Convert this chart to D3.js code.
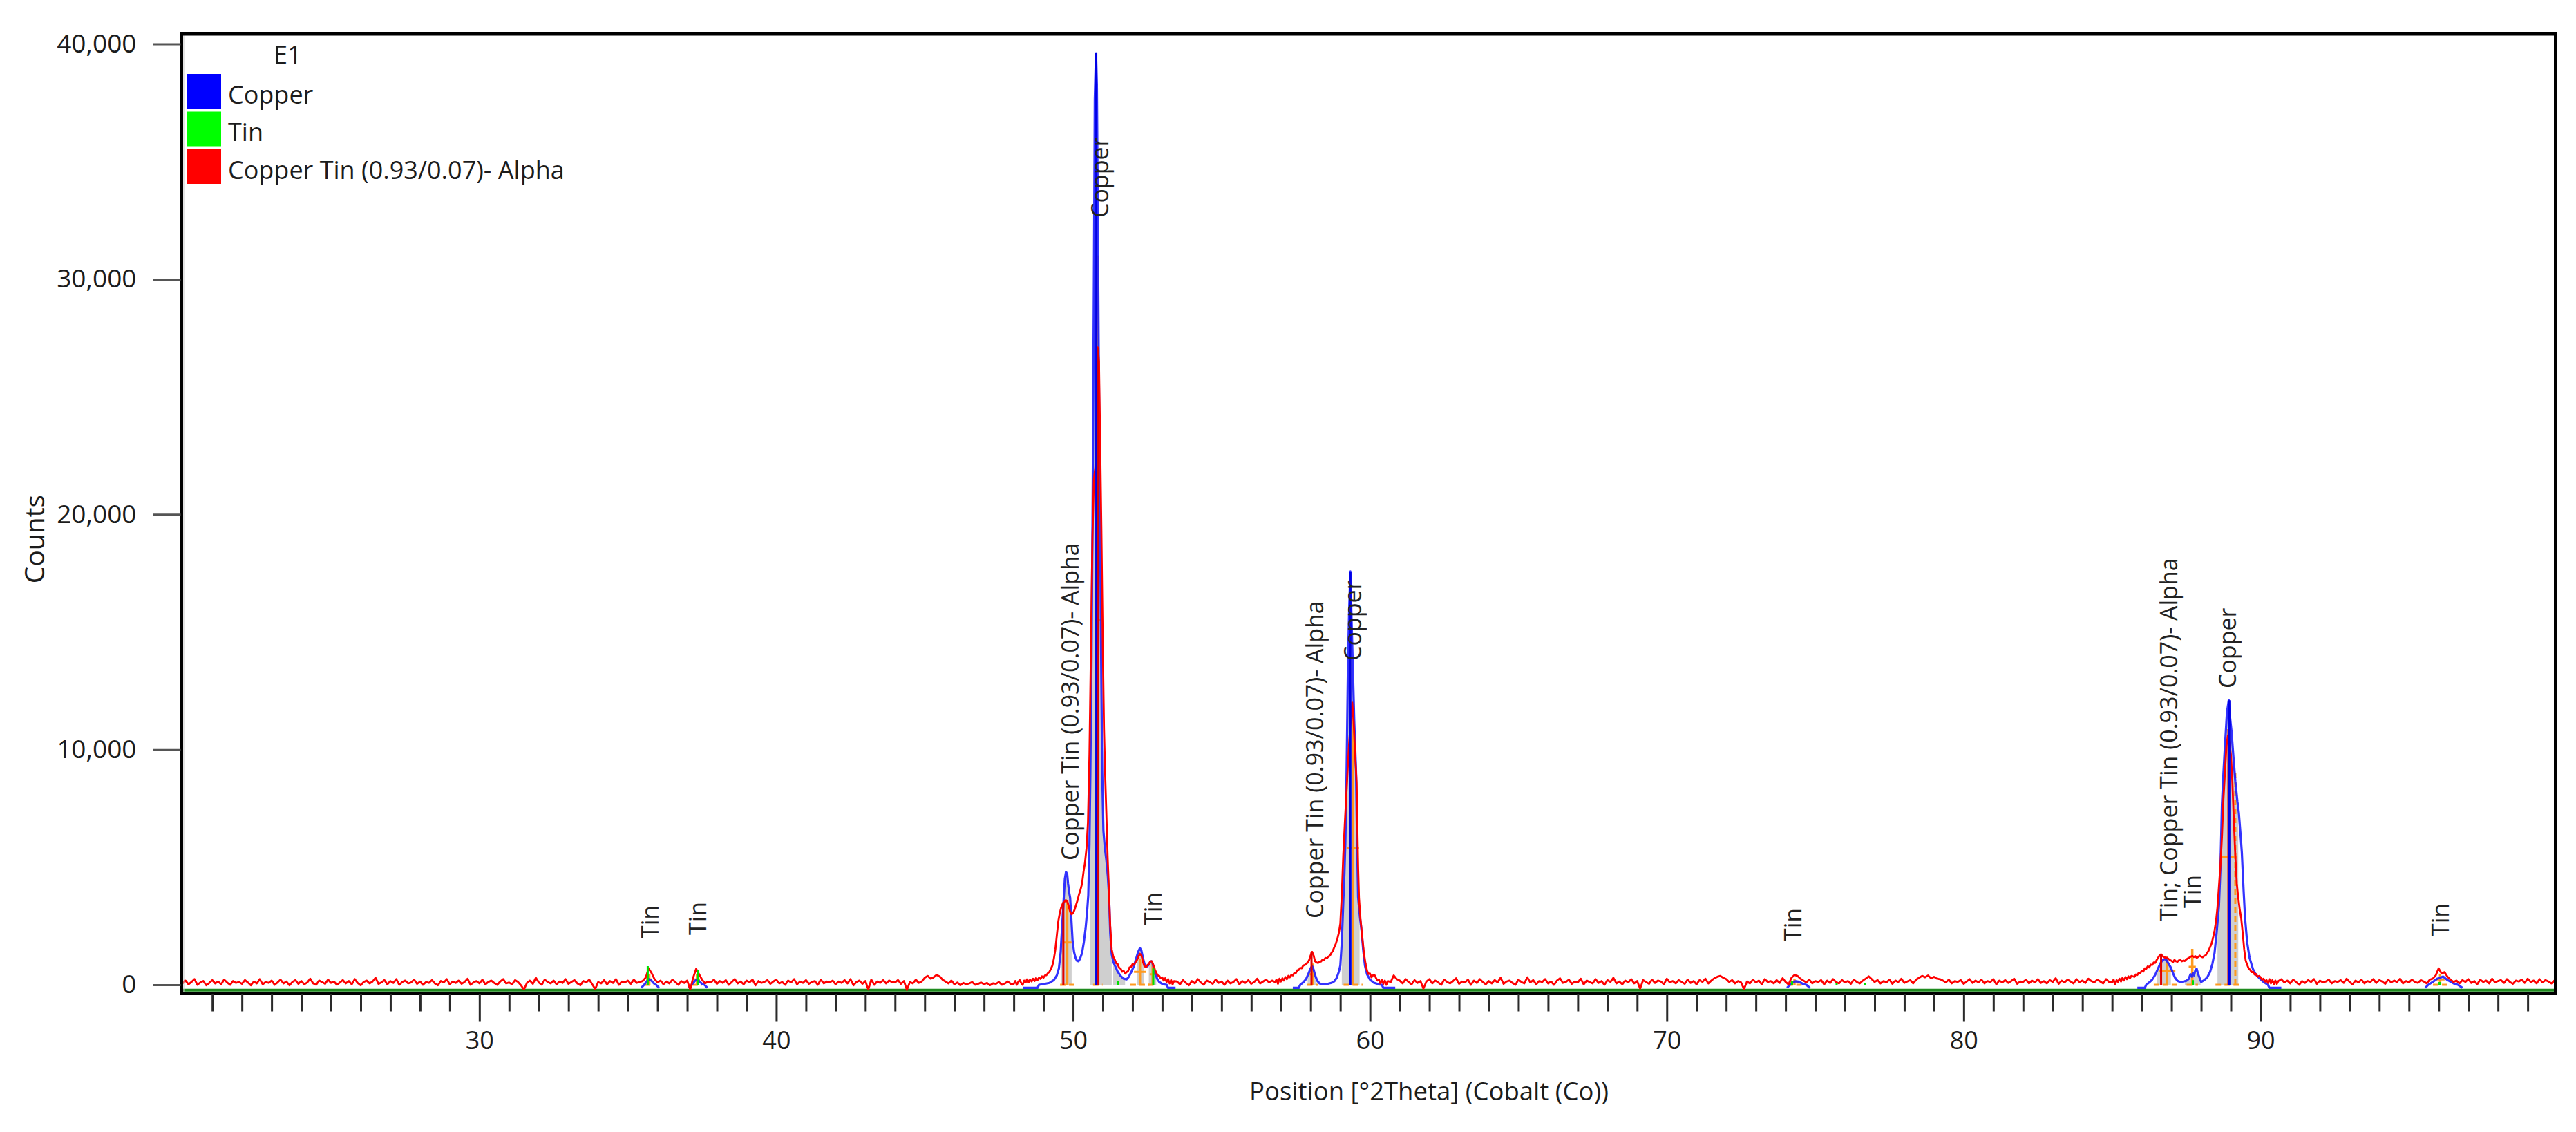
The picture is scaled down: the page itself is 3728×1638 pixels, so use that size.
<!DOCTYPE html>
<html>
<head>
<meta charset="utf-8">
<script src="https://cdn.jsdelivr.net/npm/d3@7/dist/d3.min.js"></script>
<style>
html,body{margin:0;padding:0;background:#ffffff;}
svg{display:block;}
</style>
</head>
<body>
<svg id="chart" width="3728" height="1638"></svg>
<script>
// ---------------- axis / text data ----------------
const xDomain = [19.96, 99.94];
const yDomain = [-367, 40426];
const xMajorTicks = [30, 40, 50, 60, 70, 80, 90];
const xMajorLabels = ["30", "40", "50", "60", "70", "80", "90"];
const yTicks = [0, 10000, 20000, 30000, 40000];
const yTickLabels = ["0", "10,000", "20,000", "30,000", "40,000"];
const xTitle = "Position [°2Theta] (Cobalt (Co))";
const yTitle = "Counts";
const legendTitle = "E1";
const phases = ["Copper", "Tin", "Copper Tin (0.93/0.07)- Alpha"];
const phaseColors = ["#0000ff", "#00ff00", "#ff0000"];

// ---------------- measured scan (red) ----------------
const scanStep = 0.1;
const scanBgAStart = 20.0;
const scanBgA = [
 60,180,20,120,240,0,100,160,-20,80,200,60,140,20,220,100,0,160,80,120,
 40,200,100,-20,140,60,240,20,120,80,180,0,100,220,60,140,-20,120,200,40,
 160,20,100,260,60,0,180,120,40,220,80,140,0,100,200,60,160,20,240,80,
 -20,120,180,60,140,300,40,100,200,20,160,80,240,0,120,180,60,100,220,40,
 140,0,120,80,200,60,-20,160,100,240,20,140,80,180,40,120,260,0,100,160,
 60,220,20,120,180,80,0,140,240,60,100,20,200,120,-20,-200,80,180,40,300,
 100,0,220,120,60,180,20,140,80,240,40,120,200,60,-20,160,100,220,20,-180,
 120,60,200,20,160,80,240,0,140,100,180,40,220,80,120,160,300,700,500,240,
 100,180,20,140,60,220,120,0,160,80,180,-200,300,680,450,220,60,140,100,220,
 40,160,80,200,0,120,240,60,140,20,180,100,220,-20,160,80,120,200,40,140,
 220,60,120,0,180,100,240,20,140,80,200,40,120,160,0,220,60,140,100,180,
 20,140,80,200,60,240,-20,120,180,40,160,-200,220,0,140,80,200,60,180,120,
 100,200,40,160,-220,120,60,220,80,140,300,380,260,320,420,360,220,140,60,180,
 20,100,-20,80,20,60,120,0,40,100,20,80,-20,60,40,120,0,60,140,40
];
const scanWin1 = [
 [48.0,40],[48.05,160],[48.1,0],[48.15,120],[48.2,200],[48.25,80],[48.3,0],[48.35,180],[48.4,100],[48.45,240],
 [48.5,110],[48.55,220],[48.6,140],[48.65,260],[48.7,160],[48.75,290],[48.8,200],[48.85,300],[48.9,250],[48.95,360],
 [49.0,300],[49.05,400],[49.1,410],[49.15,500],[49.2,550],[49.25,680],[49.3,820],[49.35,1100],[49.4,1500],[49.45,2100],
 [49.5,2700],[49.55,3050],[49.6,3300],[49.65,3450],[49.7,3520],[49.75,3600],[49.8,3550],[49.85,3350],[49.9,3100],[49.95,3000],
 [50.0,3050],[50.05,3200],[50.1,3400],[50.15,3600],[50.2,3850],[50.25,4050],[50.3,4300],[50.35,4800],[50.4,5200],[50.45,5800],
 [50.5,6900],[50.55,9800],[50.6,14300],[50.65,19000],[50.7,21500],[50.75,22000],[50.8,24500],[50.83,27100],[50.87,26500],[50.9,24000],
 [50.95,19500],[51.0,14400],[51.04,10900],[51.08,8900],[51.12,7250],[51.16,5500],[51.2,4200],[51.25,2500],[51.3,1500],[51.35,1200],
 [51.4,1080],[51.45,920],[51.5,880],[51.55,720],[51.6,690],[51.65,560],[51.7,600],[51.75,480],[51.8,540],[51.85,580],
 [51.9,740],[51.95,760],[52.0,880],[52.05,850],[52.1,960],[52.15,1050],[52.2,1200],[52.25,1320],[52.3,1250],[52.35,1000],
 [52.4,800],[52.45,740],[52.5,840],[52.55,880],[52.6,1000],[52.65,1000],[52.7,850],[52.75,660],[52.8,520],[52.85,400],
 [52.9,380],[52.95,280],[53.0,320],[53.05,180],[53.1,280],[53.15,120],[53.2,240],[53.25,60],[53.3,200],[53.35,20],[53.4,160]
];
const scanBgBStart = 53.5;
const scanBgB = [
 140,20,200,80,-20,160,60,240,100,0,180,120,40,220,80,140,0,180,60,120,
 240,20,160,80,200,40,120,260,60,140,220,100,180
];
const scanWin2 = [
 [56.8,120],[56.85,220],[56.9,40],[56.95,260],[57.0,140],[57.05,280],[57.1,180],[57.15,330],[57.2,240],[57.25,380],
 [57.3,320],[57.35,420],[57.4,400],[57.45,500],[57.5,500],[57.55,620],[57.6,630],[57.65,720],[57.7,700],[57.75,820],
 [57.8,840],[57.85,900],[57.9,940],[57.95,1050],[58.0,1250],[58.05,1400],[58.1,1250],[58.15,1000],[58.2,950],[58.25,930],
 [58.3,980],[58.35,990],[58.4,1070],[58.45,1060],[58.5,1140],[58.55,1130],[58.6,1200],[58.65,1240],[58.7,1350],[58.75,1450],
 [58.8,1600],[58.85,1750],[58.9,1950],[58.95,2200],[59.0,2600],[59.05,3800],[59.1,5500],[59.15,6800],[59.2,8000],[59.25,9200],
 [59.3,10300],[59.35,11200],[59.4,12000],[59.45,11200],[59.5,9800],[59.55,8600],[59.6,5000],[59.63,3700],[59.68,2800],[59.75,1900],
 [59.8,1300],[59.85,900],[59.9,600],[59.95,460],[60.0,480],[60.05,320],[60.1,400],[60.15,420],[60.2,300],[60.25,180],
 [60.3,220],[60.35,60],[60.4,220],[60.45,40],[60.5,180],[60.55,0],[60.6,160]
];
const scanBgCStart = 60.7;
const scanBgC = [
 120,400,240,180,60,240,120,20,200,80,160,-160,140,240,60,180,100,0,220,120,
 60,160,280,40,140,100,220,0,180,80,240,120,20,160,60,200,100,300,40,140,
 180,80,0,220,120,60,320,100,200,20,160,120,240,60,140,0,180,280,80,120,
 220,40,140,100,260,20,180,120,60,240,80,160,0,200,120,300,60,140,20,180,
 100,240,60,160,-160,200,120,40,220,80,180,140,20,260,100,160,60,200,120,40,
 220,80,160,20,200,120,260,60,180,280,340,380,300,240,120,200,60,160,100,-180,
 140,60,220,100,180,20,240,120,160,60,200,80,280,120,20,300,420,380,260,180,
 100,220,60,160,120,200,20,180,80,240,120,60,200,100,160,40,220,120,60,180,
 260,360,240,120,200,60,160,100,220,40,180,120,260,80,140,200,60,220,300,380,
 320,400,280,340,260,240,180,100,220,60,160,120,200,40,140,240,80,180,100,220,
 60,160,120,240,20,180,100,200,80,160,260,40,140,120,220,60,180,100,240,80,
 160,60,200,120,280,40,180,100,220,140,60,240,120,180,80,260,160,100,220,140,
 60,240,120
];
const scanWin3 = [
 [85.0,100],[85.05,220],[85.1,20],[85.15,200],[85.2,120],[85.25,260],[85.3,140],[85.35,300],[85.4,180],[85.45,330],
 [85.5,240],[85.55,360],[85.6,280],[85.65,380],[85.7,360],[85.75,340],[85.8,440],[85.85,420],[85.9,520],[85.95,500],
 [86.0,600],[86.05,560],[86.1,700],[86.15,680],[86.2,790],[86.25,740],[86.3,860],[86.35,840],[86.4,950],[86.45,930],
 [86.5,1050],[86.55,1150],[86.6,1250],[86.65,1300],[86.7,1220],[86.75,1180],[86.8,1150],[86.85,1150],[86.9,1100],[86.95,1050],
 [87.0,1020],[87.05,960],[87.1,1060],[87.15,1000],[87.2,980],[87.25,1040],[87.3,1050],[87.35,1000],[87.4,1030],[87.45,1010],
 [87.5,1080],[87.55,1120],[87.6,1150],[87.65,1200],[87.7,1230],[87.75,1180],[87.8,1220],[87.85,1150],[87.9,1180],[87.95,1240],
 [88.0,1200],[88.05,1170],[88.1,1230],[88.15,1250],[88.2,1350],[88.25,1450],[88.3,1600],[88.35,1750],[88.4,2000],[88.45,2300],
 [88.5,2700],[88.55,3300],[88.6,4200],[88.65,5100],[88.7,6300],[88.75,7900],[88.8,9000],[88.85,10140],[88.9,10600],[88.95,10300],
 [89.0,9800],[89.05,8660],[89.1,7000],[89.15,5500],[89.2,4300],[89.25,3700],[89.3,3200],[89.35,2820],[89.4,2200],[89.45,1500],
 [89.5,1030],[89.55,850],[89.6,700],[89.65,640],[89.7,540],[89.75,560],[89.8,440],[89.85,460],[89.9,340],[89.95,380],
 [90.0,320],[90.05,220],[90.1,260],[90.15,140],[90.2,200],[90.25,80],[90.3,240],[90.35,60],[90.4,200],[90.45,20],
 [90.5,180],[90.55,40],[90.6,160]
];
const scanBgDStart = 90.7;
const scanBgD = [
 240,100,180,60,220,120,0,160,80,200,120,240,40,180,100,140,220,60,160,120,
 200,80,260,120,20,180,100,220,60,160,120,240,80,200,140,40,220,100,180,120,
 260,60,160,100,220,120,80,200,140,60,220,260,400,700,480,540,340,220,120,180,
 60,200,120,240,80,160,20,220,120,180,60,260,100,160,200,80,240,120,40,180,
 140,220,80,260,120,180,60,240,100,200,140,60,180
];

// ---------------- calculated profile (blue) ----------------
const profileA = [
 [48.3,-130],[48.8,-130],[48.85,0],[49.0,30],[49.2,80],[49.35,200],[49.45,400],[49.52,700],[49.58,1400],[49.63,2500],
 [49.68,3600],[49.72,4500],[49.76,4800],[49.8,4700],[49.83,4300],[49.87,3900],[49.9,3700],[49.94,2800],[49.98,1900],[50.03,1400],
 [50.08,1150],[50.13,1020],[50.18,1000],[50.23,1100],[50.3,1350],[50.36,1800],[50.42,2400],[50.47,3100],[50.51,3800],[50.55,6000],
 [50.58,9000],[50.62,14000],[50.66,21000],[50.7,30000],[50.73,37650],[50.77,39600],[50.8,38240],[50.83,33000],[50.86,27000],[50.9,21000],
 [50.94,14500],[50.98,9000],[51.02,6550],[51.07,5800],[51.12,5300],[51.17,4600],[51.21,3800],[51.25,2200],[51.3,1300],[51.36,950],
 [51.43,760],[51.5,560],[51.6,380],[51.7,260],[51.8,230],[51.88,350],[51.96,550],[52.05,800],[52.12,1100],[52.19,1400],
 [52.25,1560],[52.3,1450],[52.36,1100],[52.42,820],[52.47,760],[52.53,830],[52.59,950],[52.64,1000],[52.68,900],[52.73,650],
 [52.78,420],[52.84,230],[52.9,120],[53.0,40],[53.1,10],[53.15,0],[53.2,-130],[53.45,-130]
];
const profileB = [
 [57.4,-130],[57.6,-130],[57.65,0],[57.75,100],[57.85,250],[57.92,450],[58.0,700],[58.05,800],[58.1,650],[58.16,380],
 [58.22,180],[58.3,60],[58.4,20],[58.5,30],[58.6,50],[58.7,80],[58.8,150],[58.88,300],[58.95,550],[59.0,820],
 [59.05,1800],[59.1,3500],[59.14,4800],[59.17,6050],[59.2,8000],[59.22,9840],[59.26,13720],[59.3,16000],[59.34,17570],[59.38,15500],
 [59.42,13600],[59.47,11200],[59.53,9100],[59.56,6500],[59.6,3730],[59.66,2900],[59.72,2260],[59.77,1500],[59.83,820],[59.9,450],
 [60.0,220],[60.13,90],[60.3,20],[60.4,0],[60.45,-130],[60.85,-130]
];
const profileC = [
 [85.85,-130],[86.1,-130],[86.15,0],[86.25,100],[86.35,220],[86.45,420],[86.55,700],[86.62,900],[86.7,1050],[86.77,1100],
 [86.83,1050],[86.9,900],[86.98,730],[87.05,500],[87.12,300],[87.2,170],[87.3,120],[87.4,140],[87.5,170],[87.58,250],
 [87.64,450],[87.68,350],[87.72,500],[87.76,400],[87.8,600],[87.85,680],[87.9,450],[87.96,250],[88.0,120],[88.08,180],
 [88.15,250],[88.22,350],[88.3,550],[88.38,900],[88.45,1350],[88.52,2200],[88.6,3380],[88.65,5000],[88.7,7670],[88.75,9000],
 [88.8,10140],[88.87,11600],[88.93,12100],[88.97,11400],[89.02,10810],[89.08,9800],[89.15,8660],[89.22,7800],[89.27,7300],[89.32,6500],
 [89.37,5630],[89.43,4000],[89.48,2820],[89.55,1800],[89.63,1150],[89.75,650],[89.85,420],[89.95,300],[90.1,120],[90.25,0],
 [90.3,-130],[90.7,-130]
];
const profileTin1 = [[35.45,-130],[35.55,0],[35.62,120],[35.7,240],[35.78,200],[35.86,80],[35.95,0],[36.05,-130]];
const profileTin2 = [[37.05,-130],[37.15,0],[37.25,150],[37.33,240],[37.4,160],[37.5,40],[37.58,0],[37.68,-130]];
const profileTin3 = [[74.05,-130],[74.15,0],[74.25,120],[74.35,150],[74.45,130],[74.6,30],[74.7,0],[74.82,-130]];
const profileTin4 = [[95.55,-130],[95.65,0],[95.8,120],[95.95,260],[96.05,300],[96.15,350],[96.3,200],[96.5,60],[96.65,0],[96.8,-130]];

// fitted-peak shading intervals (deg)
const grayBands = [[49.6,49.95],[50.58,51.3],[51.35,51.75],[52.15,52.38],[52.55,52.8],[57.9,58.2],[59.05,59.65],[86.5,86.98],[87.45,87.98],[88.55,89.25]];

// ---------------- reference sticks ----------------
const copperSticks = [[50.78,39600],[59.34,17570],[88.95,12100]];
const tinSticks = [[35.67,790],[37.36,650],[51.52,150],[52.70,700],[74.22,180],[75.72,60],[76.68,80],[87.72,200],[96.03,120]];
const cuSnSticks = [[49.67,3520],[50.85,27100],[58.03,1400],[86.65,1300],[88.92,10870]];

// ---------------- peak list markers (orange): position, height, half width ----------------
const peakPos = [35.72, 37.33, 49.8, 50.83, 52.25, 52.68, 58.07, 59.43, 74.3, 86.85, 87.7, 88.93, 96.05];
const peakHeight = [450, 450, 3600, 31000, 1100, 900, 900, 11660, 250, 1200, 1530, 10870, 450];
const peakHalfWidth = [0.1, 0.1, 0.15, 0.1, 0.2, 0.1, 0.12, 0.2, 0.15, 0.28, 0.12, 0.28, 0.15];
const kAlpha2Marks = [[89.15, 9020]];

// background level of the green phase trace
const greenTraceLevel = -230;

// ---------------- peak annotations: position, counts level, text ----------------
const peakLabelPos = [35.75, 37.36, 49.89, 50.9, 52.7, 58.13, 59.42, 74.25, 86.9, 87.7, 88.9, 96.05];
const peakLabelLevel = [1968, 2115, 5288, 32611, 2527, 2820, 13779, 1851, 2703, 3261, 12604, 2057];
const peakLabelText = ["Tin", "Tin", "Copper Tin (0.93/0.07)- Alpha", "Copper", "Tin", "Copper Tin (0.93/0.07)- Alpha", "Copper", "Tin", "Tin; Copper Tin (0.93/0.07)- Alpha", "Tin", "Copper", "Tin"];

// ================= drawing =================
const svg = d3.select("#chart");
const W = 3728, H = 1638;
const pL = 262.5, pR = 3698.5, pT = 49, pB = 1437.5;
const FONT = "'Open Sans', 'Noto Sans', sans-serif";
const TXT = "#1c1c1c";

const x = d3.scaleLinear().domain(xDomain).range([pL, pR]);
const y = d3.scaleLinear().domain(yDomain).range([pB, pT]);

svg.append("rect").attr("width", W).attr("height", H).attr("fill", "#fff");

const defs = svg.append("defs");
defs.append("clipPath").attr("id", "plotClip").append("rect")
  .attr("x", pL).attr("y", pT).attr("width", pR - pL).attr("height", pB - pT);
grayBands.forEach((b, i) => {
  defs.append("clipPath").attr("id", "band" + i).append("rect")
    .attr("x", x(b[0])).attr("y", pT).attr("width", x(b[1]) - x(b[0])).attr("height", pB - pT);
});

function bgPoints(start, vals) {
  return vals.map((v, i) => [start + i * scanStep, v]);
}
const scan = [].concat(
  bgPoints(scanBgAStart, scanBgA), scanWin1,
  bgPoints(scanBgBStart, scanBgB), scanWin2,
  bgPoints(scanBgCStart, scanBgC), scanWin3,
  bgPoints(scanBgDStart, scanBgD)
);
const profiles = [profileA, profileB, profileC, profileTin1, profileTin2, profileTin3, profileTin4];

const line = d3.line().x(d => x(d[0])).y(d => y(d[1]));
const area = d3.area().x(d => x(d[0])).y0(y(0)).y1(d => y(Math.max(0, d[1])));

const plot = svg.append("g").attr("clip-path", "url(#plotClip)");

// gray fitted-peak shading
const grayG = plot.append("g");
grayBands.forEach((b, i) => {
  profiles.forEach(p => {
    if (p[0][0] <= b[1] && p[p.length - 1][0] >= b[0]) {
      grayG.append("path").attr("clip-path", `url(#band${i})`)
        .attr("d", area(p)).attr("fill", "#cfcfcf").attr("stroke", "none");
    }
  });
});

// green trace at the bottom
plot.append("path")
  .attr("d", line([[xDomain[0], greenTraceLevel], [xDomain[1], greenTraceLevel]]))
  .attr("stroke", "#1f8a1f").attr("stroke-width", 4).attr("fill", "none");

// orange peak-list markers
const orangeG = plot.append("g").attr("stroke", "#ff9a1e").attr("fill", "none");
peakPos.forEach((p, i) => {
  const h = peakHeight[i], w = peakHalfWidth[i];
  orangeG.append("line").attr("x1", x(p)).attr("x2", x(p)).attr("y1", y(0)).attr("y2", y(h)).attr("stroke-width", 3.5);
  orangeG.append("line").attr("x1", x(p - w)).attr("x2", x(p + w)).attr("y1", y(h / 2)).attr("y2", y(h / 2)).attr("stroke-width", 3);
  orangeG.append("line").attr("x1", x(p - 1.6 * w)).attr("x2", x(p + 1.6 * w)).attr("y1", y(0)).attr("y2", y(0))
    .attr("stroke-width", 3).attr("stroke-dasharray", "8,5");
});
kAlpha2Marks.forEach(m => {
  orangeG.append("line").attr("x1", x(m[0])).attr("x2", x(m[0])).attr("y1", y(0)).attr("y2", y(m[1]))
    .attr("stroke-width", 3).attr("stroke-dasharray", "8,5");
});

// blue calculated profile
profiles.forEach(p => {
  plot.append("path").attr("d", line(p)).attr("fill", "none")
    .attr("stroke", "#1d1dff").attr("stroke-width", 3.2).attr("stroke-linejoin", "round").attr("opacity", 0.9);
});

// red measured scan
plot.append("path").attr("d", line(scan)).attr("fill", "none")
  .attr("stroke", "#ff0000").attr("stroke-width", 2.8).attr("stroke-linejoin", "round");

// reference sticks
function sticks(data, color) {
  plot.append("g").selectAll("line").data(data).join("line")
    .attr("x1", d => x(d[0])).attr("x2", d => x(d[0]))
    .attr("y1", y(0)).attr("y2", d => y(d[1]))
    .attr("stroke", color).attr("stroke-width", 3);
}
sticks(cuSnSticks, "#e00000");
sticks(tinSticks, "#00e000");
sticks(copperSticks, "#0000e6");

// peak annotations
svg.append("g").selectAll("text").data(peakLabelPos).join("text")
  .attr("transform", (d, i) => `translate(${x(d)},${y(peakLabelLevel[i])}) rotate(-90)`)
  .attr("dy", "0.36em").attr("text-anchor", "start")
  .attr("font-family", FONT).attr("font-size", 34).attr("fill", "#222")
  .text((d, i) => peakLabelText[i]);

// frame
svg.append("line").attr("x1", pL + 4).attr("x2", pL + 4).attr("y1", pT).attr("y2", pB).attr("stroke", "#c8c8c8").attr("stroke-width", 2);
svg.append("rect").attr("x", pL).attr("y", pT).attr("width", pR - pL).attr("height", pB - pT)
  .attr("fill", "none").attr("stroke", "#000").attr("stroke-width", 5);

// x axis
const xAxisMinor = d3.axisBottom(x).tickValues(d3.range(21, 100).filter(v => v % 10 !== 0)).tickSize(25).tickFormat("");
const xAxisMajor = d3.axisBottom(x).tickValues(xMajorTicks).tickSize(40).tickPadding(14)
  .tickFormat((d, i) => xMajorLabels[i]);
const gxm = svg.append("g").attr("transform", `translate(0,${pB + 1})`).call(xAxisMinor);
const gx = svg.append("g").attr("transform", `translate(0,${pB + 1})`).call(xAxisMajor);
[gxm, gx].forEach(g => {
  g.select(".domain").remove();
  g.selectAll(".tick line").attr("stroke", "#2a2a2a").attr("stroke-width", 3);
});
gx.selectAll(".tick text").attr("font-family", FONT).attr("font-size", 36).attr("fill", TXT);

// y axis
const yAxis = d3.axisLeft(y).tickValues(yTicks).tickSize(40).tickPadding(24).tickFormat((d, i) => yTickLabels[i]);
const gy = svg.append("g").attr("transform", `translate(${pL - 1},0)`).call(yAxis);
gy.select(".domain").remove();
gy.selectAll(".tick line").attr("stroke", "#555").attr("stroke-width", 3);
gy.selectAll(".tick text").attr("font-family", FONT).attr("font-size", 37).attr("fill", TXT);

// axis titles
svg.append("text").attr("x", 2068).attr("y", 1592).attr("text-anchor", "middle")
  .attr("font-family", FONT).attr("font-size", 36.5).attr("fill", TXT).text(xTitle);
svg.append("text").attr("transform", "translate(64,780) rotate(-90)").attr("text-anchor", "middle")
  .attr("font-family", FONT).attr("font-size", 39).attr("fill", TXT).text(yTitle);

// legend
const lg = svg.append("g");
lg.append("text").attr("x", 396).attr("y", 92).attr("font-family", FONT).attr("font-size", 36).attr("fill", TXT).text(legendTitle);
phases.forEach((p, i) => {
  lg.append("rect").attr("x", 271).attr("y", 108 + i * 54.5).attr("width", 48).attr("height", 48)
    .attr("fill", phaseColors[i]).attr("stroke", d3.color(phaseColors[i]).brighter(0.6)).attr("stroke-width", 2);
  lg.append("text").attr("x", 330).attr("y", 150 + i * 54.3).attr("font-family", FONT).attr("font-size", 36)
    .attr("fill", TXT).text(p);
});
</script>
</body>
</html>
